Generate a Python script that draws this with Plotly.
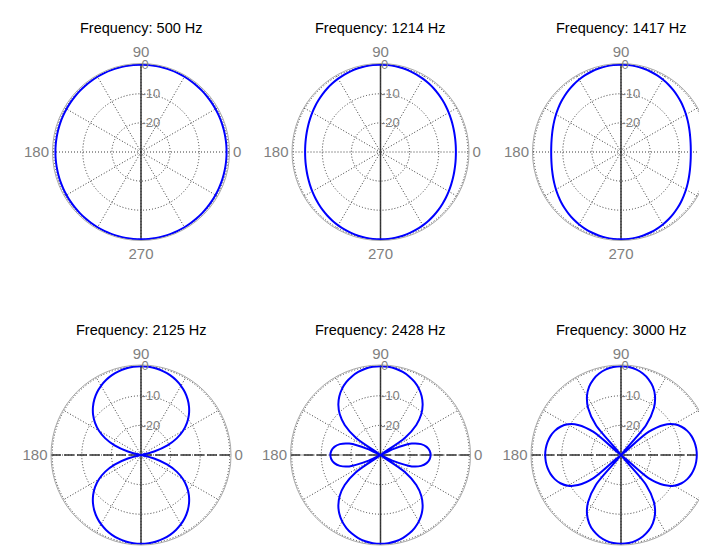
import plotly.graph_objects as go

# ---------------- data ----------------
FREQ_LABELS = ["500", "1214", "1417", "2125", "2428", "3000"]

# one quadrant of angles (degrees); patterns are symmetric about both axes
ANGLES_Q = [0, 5, 10, 15, 20, 25, 30, 35, 40, 45, 50, 55, 60, 65, 70, 75, 80, 85, 90]

# response in dB at ANGLES_Q (clipped at -30 dB = centre)
DB_500 = [-0.61, -0.60, -0.59, -0.57, -0.53, -0.50, -0.45, -0.40, -0.35, -0.30,
          -0.25, -0.20, -0.15, -0.11, -0.07, -0.04, -0.02, -0.00, 0.0]
DB_1214 = [-4.10, -4.06, -3.95, -3.78, -3.54, -3.26, -2.94, -2.59, -2.24, -1.88,
           -1.53, -1.21, -0.91, -0.64, -0.42, -0.24, -0.11, -0.03, 0.0]
DB_1417 = [-6.02, -5.96, -5.79, -5.51, -5.14, -4.70, -4.21, -3.69, -3.16, -2.64,
           -2.14, -1.67, -1.25, -0.88, -0.57, -0.32, -0.14, -0.04, 0.0]
DB_2125 = [-30.0, -30.0, -30.0, -25.4, -20.5, -16.7, -13.6, -11.05, -8.89, -7.05,
           -5.48, -4.14, -3.01, -2.07, -1.31, -0.74, -0.33, -0.08, 0.0]
DB_2428 = [-13.07, -13.33, -14.18, -15.80, -18.75, -25.07, -30.0, -19.96, -14.21, -10.54,
           -7.85, -5.76, -4.10, -2.78, -1.75, -0.97, -0.43, -0.11, 0.0]
DB_3000 = [-4.40, -4.50, -4.80, -5.34, -6.18, -7.43, -9.30, -12.28, -17.88, -30.0,
           -16.78, -10.62, -7.02, -4.55, -2.78, -1.52, -0.66, -0.16, 0.0]

SERIES = [DB_500, DB_1214, DB_1417, DB_2125, DB_2428, DB_3000]

RADIAL_TICKVALS = [-20, -10, 0]
RADIAL_TICKTEXT = ["-20", "-10", "0"]
ANGULAR_TICKVALS = [0, 30, 60, 90, 120, 150, 180, 210, 240, 270, 300, 330]
ANGULAR_TICKTEXT = ["0", "", "", "90", "", "", "180", "", "", "270", "", ""]
# the right-hand column's "0" label falls outside the picture in the reference
ANGULAR_TICKTEXT_RIGHT = ["", "", "", "90", "", "", "180", "", "", "270", "", ""]

# ---------------- layout geometry ----------------
W, H = 707, 552
COL_CX = [133, 372.5, 613]
ROW_CY = [144, 447]
ROW_R = [88.5, 90]
TITLE_Y = [20, 322]


def full_circle(q):
    theta = (ANGLES_Q
             + [180 - a for a in ANGLES_Q[-2::-1]]
             + [180 + a for a in ANGLES_Q[1:]]
             + [360 - a for a in ANGLES_Q[-2::-1]])
    r = q + q[-2::-1] + q[1:] + q[-2::-1]
    return theta, r


fig = go.Figure()
layout = dict(
    width=W, height=H,
    margin=dict(l=0, r=0, t=0, b=0),
    paper_bgcolor="white",
    plot_bgcolor="white",
    font=dict(family="Liberation Sans, Arial, sans-serif", color="black"),
    showlegend=False,
)
annotations = []
shapes = []

GRID = "#3a3a3a"
LABEL_GREY = "#7f7f7f"
DOT = "1px,2px"

for i, (lab, q) in enumerate(zip(FREQ_LABELS, SERIES)):
    row, col = divmod(i, 3)
    cx, cy, R = COL_CX[col], ROW_CY[row], ROW_R[row]
    key = "polar" if i == 0 else f"polar{i + 1}"
    layout[key] = dict(
        domain=dict(x=[(cx - R) / W, (cx + R) / W],
                    y=[(H - cy - R) / H, (H - cy + R) / H]),
        bgcolor="rgba(0,0,0,0)",
        radialaxis=dict(
            range=[-30, 0.4], tickvals=RADIAL_TICKVALS, ticktext=RADIAL_TICKTEXT,
            angle=90, side="clockwise", tickangle=90, showline=False, ticks="",
            gridcolor=GRID, griddash=DOT, gridwidth=1,
            tickfont=dict(size=13, color=LABEL_GREY),
        ),
        angularaxis=dict(
            rotation=0, direction="counterclockwise",
            tickmode="array", tickvals=ANGULAR_TICKVALS,
            ticktext=ANGULAR_TICKTEXT_RIGHT if col == 2 else ANGULAR_TICKTEXT,
            gridcolor=GRID, griddash=DOT, gridwidth=1,
            showline=True, linecolor="#a8a8a8", linewidth=1, ticks="",
            tickfont=dict(size=15, color=LABEL_GREY),
        ),
    )
    theta, r = full_circle(q)
    fig.add_trace(go.Scatterpolar(
        r=r, theta=theta, mode="lines", subplot=key,
        line=dict(color="#0000ff", width=2, shape="spline"),
        hoverinfo="skip",
    ))
    annotations.append(dict(
        text=f"Frequency: {lab} Hz", xref="paper", yref="paper",
        x=cx / W, y=1 - TITLE_Y[row] / H, xanchor="center", yanchor="middle",
        showarrow=False, font=dict(size=14.5, color="black"),
    ))
    # vertical axis line through the whole circle
    shapes.append(dict(
        type="line", xref="paper", yref="paper", layer="below",
        x0=cx / W, x1=cx / W, y0=(H - cy - R) / H, y1=(H - cy + R) / H,
        line=dict(color="#333333", width=1.5),
    ))
    if row == 1:
        shapes.append(dict(
            type="line", xref="paper", yref="paper", layer="below",
            x0=(cx - R) / W, x1=(cx + R) / W, y0=(H - cy) / H, y1=(H - cy) / H,
            line=dict(color="#333333", width=1.5, dash="10px,3px"),
        ))

layout["annotations"] = annotations
layout["shapes"] = shapes
fig.update_layout(**layout)
fig.write_html("out.html")
